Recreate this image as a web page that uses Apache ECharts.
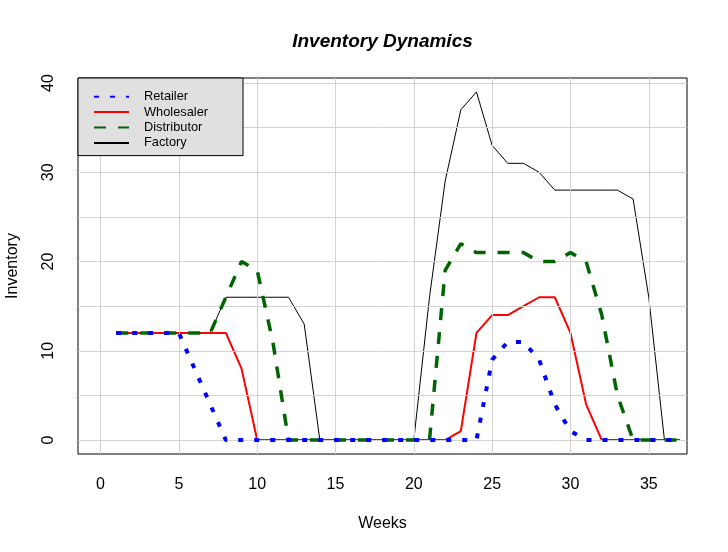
<!DOCTYPE html>
<html>
<head>
<meta charset="utf-8">
<script src="https://cdn.jsdelivr.net/npm/echarts@6/dist/echarts.min.js"></script>
<style>html,body{margin:0;padding:0;background:#fff}#c{width:728px;height:552px}</style>
</head>
<body>
<div id="c"></div>
<script>
var weeks = [1,2,3,4,5,6,7,8,9,10,11,12,13,14,15,16,17,18,19,20,21,22,23,24,25,26,27,28,29,30,31,32,33,34,35,36,37];
var retailer = [12,12,12,12,12,8,4,0,0,0,0,0,0,0,0,0,0,0,0,0,0,0,0,0,9,11,11,9,4,1,0,0,0,0,0,0,0];
var wholesaler = [12,12,12,12,12,12,12,12,8,0,0,0,0,0,0,0,0,0,0,0,0,0,1,12,14,14,15,16,16,12,4,0,0,0,0,0,0];
var distributor = [12,12,12,12,12,12,12,16,20,19,11,0,0,0,0,0,0,0,0,0,0,19,22,21,21,21,21,20,20,21,20,14,5,0,0,0,0];
var factory = [12,12,12,12,12,12,12,16,16,16,16,16,13,0,0,0,0,0,0,0,16,29,37,39,33,31,31,30,28,28,28,28,28,27,16,0,0];
var xTicks = [0,5,10,15,20,25,30,35];
var yTicks = [0,10,20,30,40];
var xGrid = [0,5,10,15,20,25,30,35];
var yGrid = [0,5,10,15,20,25,30,35,40];
var seriesNames = ['Retailer','Wholesaler','Distributor','Factory'];

function pairs(vals){ return weeks.map(function(w,i){ return [w, vals[i]]; }); }
var FONT = '"Liberation Sans", Arial, sans-serif';
var chart = echarts.init(document.getElementById('c'), null, {renderer:'canvas'});
var gridMarks = xGrid.map(function(v){ return {xAxis: v}; }).concat(yGrid.map(function(v){ return {yAxis: v}; }));

chart.setOption({
  animation: false,
  backgroundColor: '#ffffff',
  textStyle: {fontFamily: FONT},
  title: {
    text: 'Inventory Dynamics',
    left: 382.5, top: 32, textAlign: 'center', padding: 0,
    textStyle: {fontFamily: FONT, fontSize: 19, fontWeight: 'bold', fontStyle: 'italic', color: '#000'}
  },
  legend: {
    data: seriesNames,
    orient: 'vertical',
    left: 78, top: 78, z: 10,
    padding: [11, 35, 5, 15],
    itemWidth: 35, itemHeight: 10, itemGap: 0,
    itemStyle: {opacity: 0},
    backgroundColor: '#e0e0e0', borderColor: '#000', borderWidth: 1, borderRadius: 0,
    textStyle: {fontFamily: FONT, fontSize: 12.8, color: '#000', lineHeight: 15.4, padding: [0,0,0,10]}
  },
  grid: {left: 78, top: 78, right: 41, bottom: 98, show: true, borderColor: '#000', borderWidth: 1,
    backgroundColor: 'transparent', outerBoundsMode: 'none', containLabel: false},
  xAxis: {
    type: 'value', min: -1.44, max: 37.44,
    name: 'Weeks', nameLocation: 'middle', nameGap: 62,
    nameTextStyle: {fontFamily: FONT, fontSize: 16, color: '#000'},
    axisLine: {show: false},
    axisTick: {show: true, length: 9, customValues: xTicks, lineStyle: {color: '#000'}},
    axisLabel: {customValues: xTicks, margin: 23, fontFamily: FONT, fontSize: 16, color: '#000'},
    splitLine: {show: false}
  },
  yAxis: {
    type: 'value', min: -1.56, max: 40.56,
    name: 'Inventory', nameLocation: 'middle', nameGap: 57,
    nameTextStyle: {fontFamily: FONT, fontSize: 16, color: '#000'},
    axisLine: {show: false},
    axisTick: {show: true, length: 9, customValues: yTicks, lineStyle: {color: '#000'}},
    axisLabel: {customValues: yTicks, margin: 21, rotate: 90, fontFamily: FONT, fontSize: 16, color: '#000'},
    splitLine: {show: false}
  },
  series: [
    {
      name: 'gridlines', type: 'line', data: [[0,0]], symbol: 'none', lineStyle: {opacity: 0}, z: 0, silent: true,
      markLine: {silent: true, symbol: 'none', label: {show: false}, animation: false,
        lineStyle: {color: '#d3d3d3', type: 'solid', width: 1}, data: gridMarks}
    },
    {name: 'Factory', type: 'line', data: pairs(factory), symbol: 'none', z: 3,
      lineStyle: {color: '#000000', width: 1, type: 'solid'}, itemStyle: {color: '#000000'}},
    {name: 'Wholesaler', type: 'line', data: pairs(wholesaler), symbol: 'none', z: 4,
      lineStyle: {color: '#ff0000', width: 2, type: 'solid'}, itemStyle: {color: '#ff0000'}},
    {name: 'Distributor', type: 'line', data: pairs(distributor), symbol: 'none', z: 5,
      lineStyle: {color: '#006400', width: 3.5, type: [12,12], cap: 'butt'}, itemStyle: {color: '#006400'}},
    {name: 'Retailer', type: 'line', data: pairs(retailer), symbol: 'none', z: 6,
      lineStyle: {color: '#0000ff', width: 4, type: [5,11], cap: 'butt'}, itemStyle: {color: '#0000ff'}}
  ]
});
</script>
</body>
</html>
